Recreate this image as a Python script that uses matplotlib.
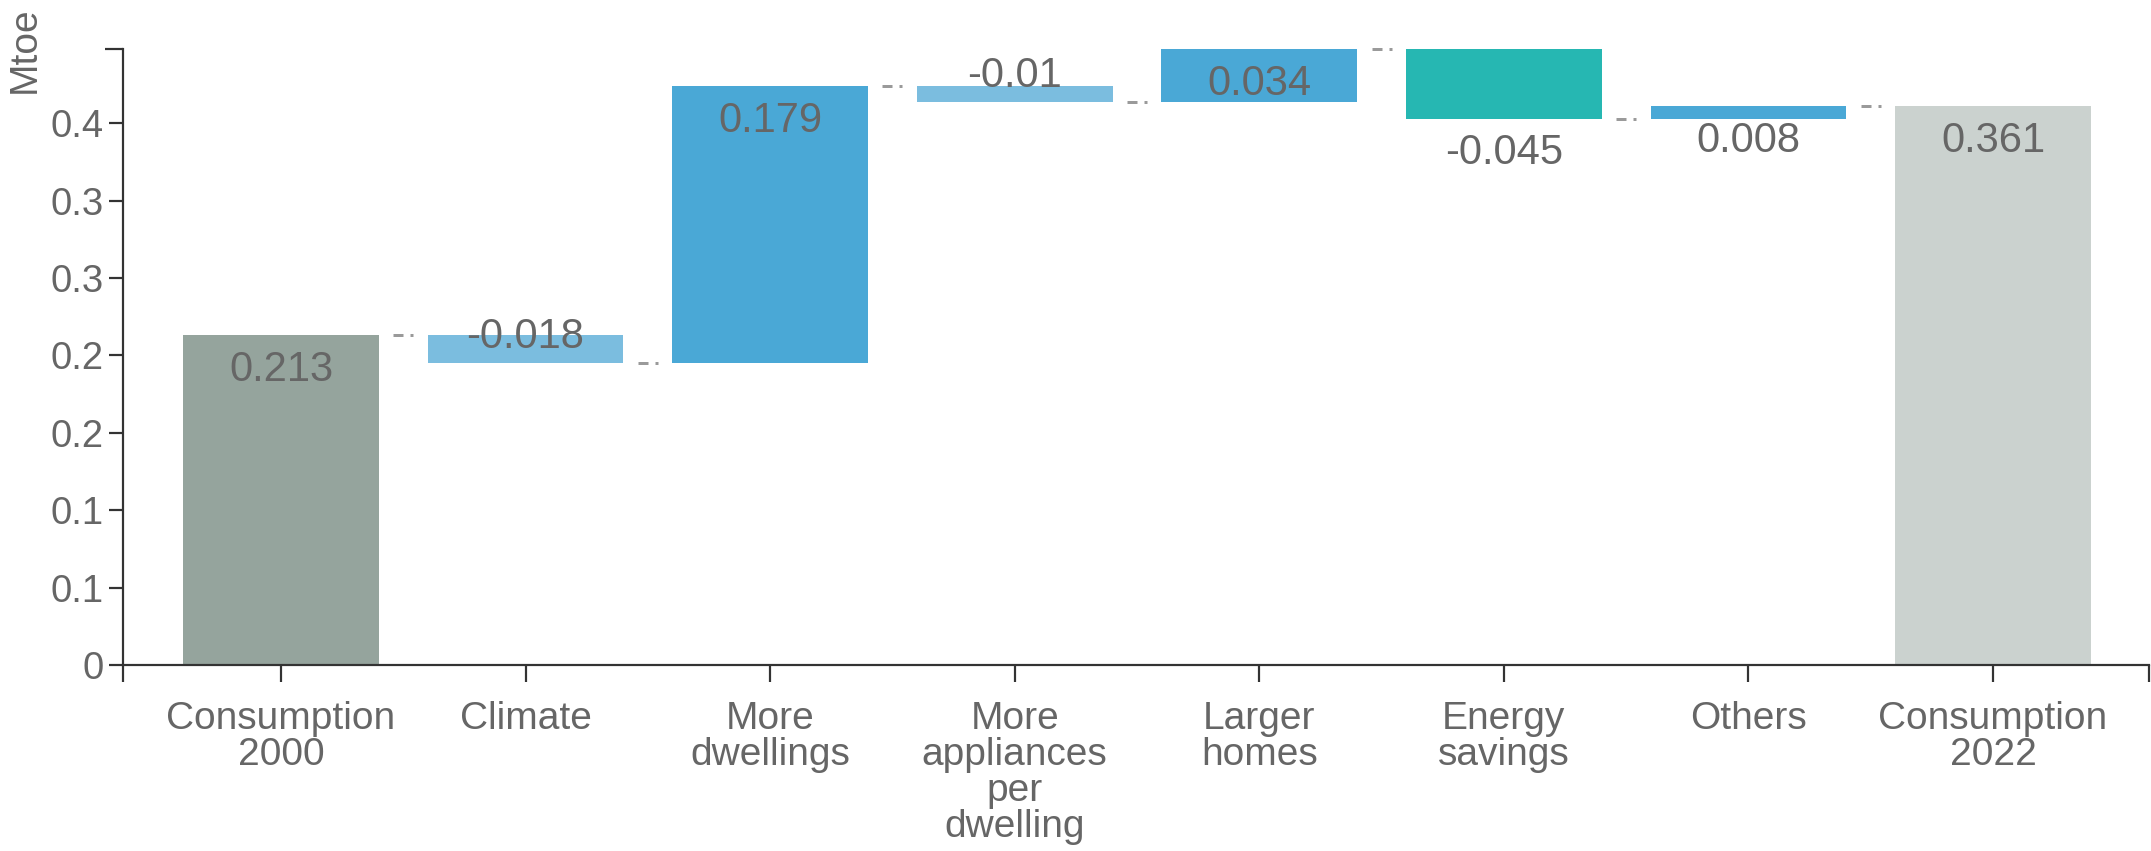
import matplotlib
matplotlib.use("Agg")
import matplotlib.pyplot as plt
from matplotlib import font_manager as fm
import numpy as np

# ---------------- data ----------------
categories = ["Consumption\n2000", "Climate", "More\ndwellings",
              "More\nappliances\nper\ndwelling", "Larger\nhomes",
              "Energy\nsavings", "Others", "Consumption\n2022"]
start_total = 0.213
changes = [-0.018, 0.179, -0.01, 0.034, -0.045, 0.008]
end_total = 0.361
ytick_values = [0, 0.05, 0.10, 0.15, 0.20, 0.25, 0.30, 0.35]
ytick_labels = ["0", "0.1", "0.1", "0.2", "0.2", "0.3", "0.3", "0.4"]
bar_colors = ["#95a49d", "#7bbddf", "#4aa8d6", "#7bbddf", "#4aa8d6",
              "#26b7b2", "#4aa8d6", "#cbd2cf"]
y_label = "Mtoe"

# ---------------- fonts ----------------
names = {f.name for f in fm.fontManager.ttflist}
base_font = "Liberation Sans" if "Liberation Sans" in names else "DejaVu Sans"
label_font = "Liberation Sans Narrow" if "Liberation Sans Narrow" in names else base_font
plt.rcParams['font.family'] = [base_font, 'DejaVu Sans']
plt.rcParams['lines.scale_dashes'] = False

TXT = "#666666"
AX = "#333333"
PX = 0.72  # points per pixel at dpi 100

# ---------------- waterfall geometry ----------------
bottoms, heights, ends = [], [], []
bottoms.append(0.0); heights.append(start_total); ends.append(start_total)
run = start_total
for c in changes:
    bottoms.append(run)
    heights.append(c)
    run = run + c
    ends.append(run)
bottoms.append(0.0); heights.append(end_total); ends.append(end_total)
values = [start_total] + changes + [end_total]
tops = [max(b, b + h) for b, h in zip(bottoms, heights)]
ymax = max(tops)

fig = plt.figure(figsize=(21.51, 8.51), dpi=100)
ax = fig.add_axes([123 / 2151, 1 - 665 / 851, (2149 - 123) / 2151, (665 - 49) / 851])

x = np.arange(len(categories))
ax.bar(x, heights, bottom=bottoms, width=0.8, color=bar_colors,
       edgecolor="none", zorder=2)

xmin, xmax = -0.646, 7.638
ax.set_xlim(xmin, xmax)
ax.set_ylim(0, ymax)

# connectors
for i in range(len(categories) - 1):
    lvl = ends[i]
    ax.plot([i + 0.5 - 0.041, i + 0.5 + 0.041], [lvl, lvl], color="#9a9a9a",
            lw=3 * PX, dashes=(10 * PX, 7 * PX, 3 * PX, 30 * PX),
            solid_capstyle="butt", dash_capstyle="butt", clip_on=False, zorder=3)

# value labels
for i, (v, b, h) in enumerate(zip(values, bottoms, heights)):
    top = max(b, b + h)
    bot = min(b, b + h)
    if h >= 0:
        anchor, off = top, -35
    else:
        if abs(h) < 0.025:
            anchor, off = bot, 26
        else:
            anchor, off = bot, -34
    ax.annotate(str(v), (i, anchor), xytext=(0, off * PX), textcoords="offset points",
                ha="center", va="center", fontsize=30, color=TXT,
                family=[label_font, 'DejaVu Sans'], zorder=4, annotation_clip=False)

# axes styling
for s in ["top", "right"]:
    ax.spines[s].set_visible(False)
for s in ["left", "bottom"]:
    ax.spines[s].set_color(AX)
    ax.spines[s].set_linewidth(2.2 * PX)
    ax.spines[s].set_zorder(5)

ax.set_yticks(ytick_values)
ax.set_yticklabels(ytick_labels)
ax.set_yticks([ymax], minor=True)
ax.set_xticks(x)
ax.set_xticklabels(categories, linespacing=1.0)
ax.set_xticks([xmin, xmax], minor=True)

ax.tick_params(axis="y", which="major", length=14 * PX, width=2.2 * PX, color=AX,
               labelsize=27.5, labelcolor=TXT, pad=4)
ax.tick_params(axis="y", which="minor", length=18 * PX, width=2.2 * PX, color=AX)
ax.tick_params(axis="x", which="major", length=17 * PX, width=2.2 * PX, color=AX,
               labelsize=28, labelcolor=TXT, pad=19 * PX)
ax.tick_params(axis="x", which="minor", length=17 * PX, width=2.2 * PX, color=AX)

fig.text(25 / 2151, 1 - 50 / 851, y_label, rotation=90, ha="center", va="center",
         fontsize=28, color=TXT)

fig.savefig("out.png", dpi=100)
